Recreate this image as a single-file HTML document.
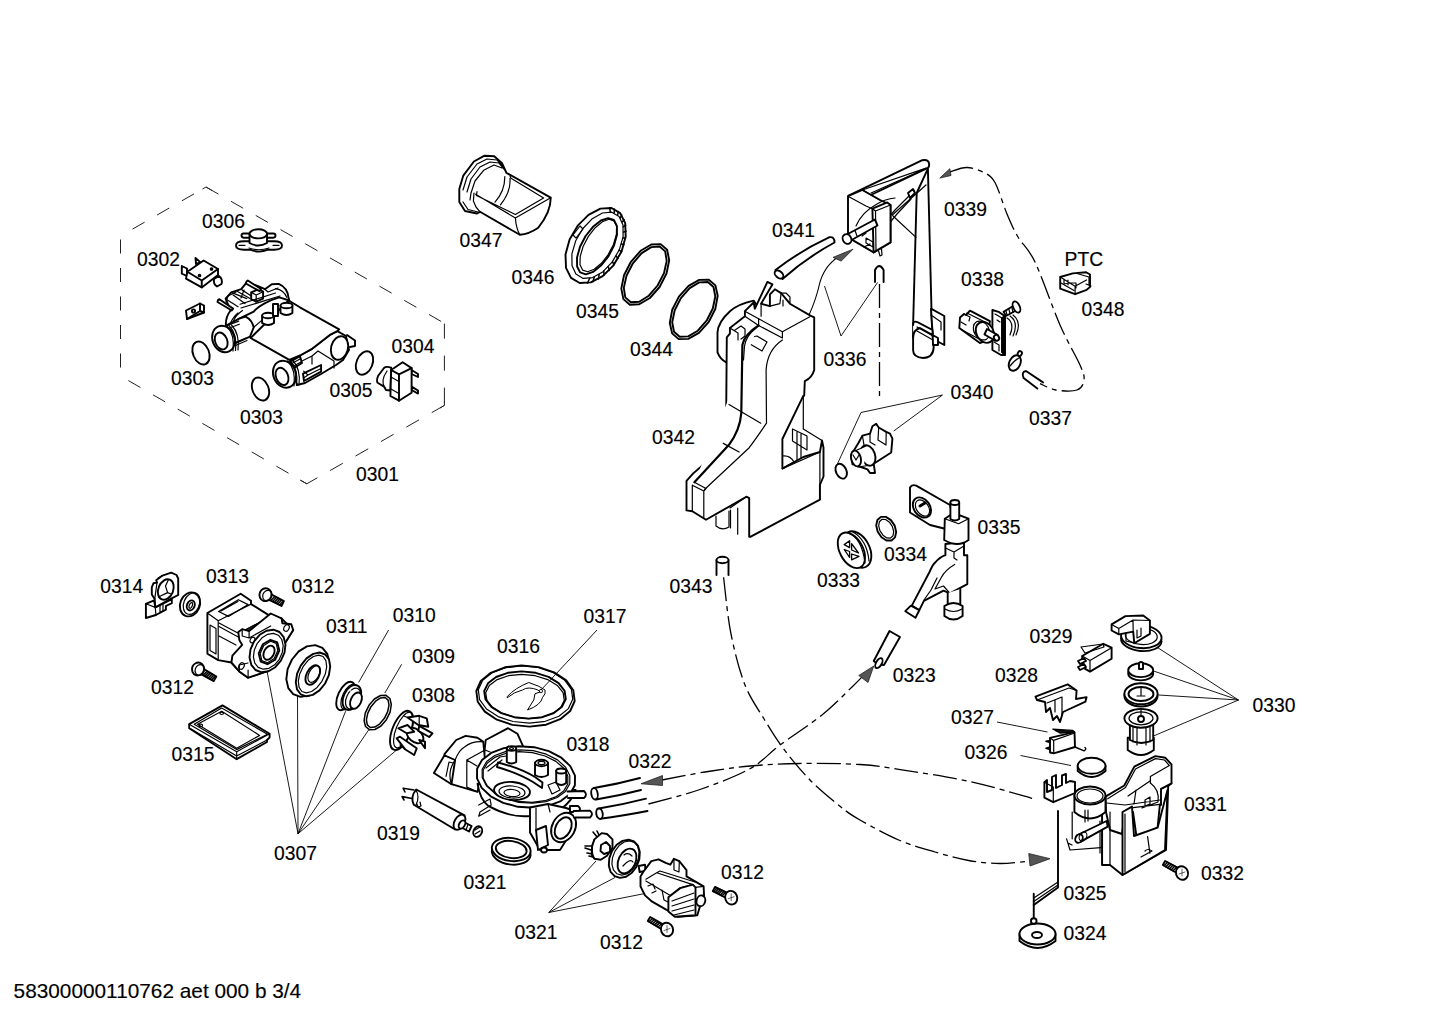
<!DOCTYPE html>
<html><head><meta charset="utf-8"><style>
html,body{margin:0;padding:0;background:#fff;}
svg{display:block;position:absolute;left:0;top:0;}
text{font-family:"Liberation Sans",sans-serif;font-size:19.3px;fill:#000;stroke:#000;stroke-width:0.15px;}
.o, .o *{fill:#fff;stroke:#000;stroke-width:1.9;stroke-linejoin:round;stroke-linecap:round;}
.o .th, .th{fill:none;stroke-width:1.2;}
.o .f, .f{fill:#000;}
.o .nf{fill:none;}
.ln{fill:none;stroke:#000;stroke-width:0.9;}
.dash{fill:none;stroke:#222;stroke-width:1.0;stroke-dasharray:14 14.5;}
.dd{fill:none;stroke:#000;stroke-width:1.3;stroke-dasharray:24 5 5 5;}
.ar{fill:#555;stroke:#222;stroke-width:0.8;}
</style></head><body>
<svg width="1442" height="1019" viewBox="0 0 1442 1019">
<!-- ===== 0301 box ===== -->
<path class="dash" d="M206,187 L120.5,236" style="stroke-dashoffset:14.7"/>
<path class="dash" d="M120.5,236 L120.5,376" style="stroke-dashoffset:25"/>
<path class="dash" d="M120.5,376 L306.8,483.8" style="stroke-dashoffset:19.4"/>
<path class="dash" d="M306.8,483.8 L444.4,405.4" style="stroke-dasharray:14.6 14.65;stroke-dashoffset:2.45"/>
<path class="dash" d="M444.4,405.4 L444.4,323.3" style="stroke-dasharray:15 17;stroke-dashoffset:29.2"/>
<path class="dash" d="M444.4,323.3 L206,187" style="stroke-dasharray:14 14.5;stroke-dashoffset:-3.8"/>
<path class="dash" d="M202.5,189 L206,187 L212,190.5" style="stroke-dasharray:none"/>
<path class="dash" d="M444.4,401 L444.4,405.4 L440,408" style="stroke-dasharray:none"/>
<path class="dash" d="M300,480 L306.8,483.8" style="stroke-dasharray:none"/>
<!-- 0306 thermostat -->
<g class="o">
<path d="M236,245.5 Q236,241.3 244,241.3 L274,241.3 Q282,241.3 282,245.5 Q282,249.7 274,249.7 L268,249.7 Q259,253.5 250,249.7 L244,249.7 Q236,249.7 236,245.5 Z"/>
<path d="M239,245.3 L245,245.3 M273,245.3 L279,245.3 M249,248 Q259,251.5 269,248" class="th"/>
<rect x="241.5" y="233.5" width="34" height="4.2" rx="2.1"/>
<path d="M249.5,234 L249.5,243 Q258.3,248 267,243 L267,234"/>
<ellipse cx="258.3" cy="233.8" rx="8.8" ry="4.6"/>
</g>
<!-- 0302 switch -->
<g class="o">
<path d="M181.8,266 L187,268.5 L187,276 L181.8,273.6 Z"/>
<path d="M195.5,258 L196,264 L200.5,262.4 Z"/>
<path d="M187.4,271.75 L203.6,260.5 L218,269 L218,275 L201.75,287.4 L186,278.6 Z"/>
<path d="M187.4,271.75 L201.75,280.5 L218,269 M201.75,280.5 L201.75,287.4"/>
<path d="M214,279 L219,276 Q223,279 221.5,284 L217,286.5 Q213,284 214,279 Z"/>
<circle cx="199.5" cy="275.5" r="0.9" class="f"/><circle cx="211.5" cy="269" r="0.9" class="f"/>
</g>
<!-- small clip -->
<g class="o">
<path d="M186,310.5 L200,303.5 L204,305.5 L204,312.5 L187,319 Z"/>
<path d="M200,303.5 L200,311 L187,319 M200,311 L204,312.5"/>
<circle cx="193.5" cy="311" r="1.6"/>
</g>
<!-- heater -->
<g class="o">
<!-- far tube (bottom cylinder to right end) -->
<path d="M290,360 L300,355.5 L312.4,348.6 L329.8,334.9 L337.3,331.2 L346,336 L349,350 L343,360 L336,365 L321,374 L305,383 L297,385 Z"/>
<path d="M300,355.5 L300,362 L312,356 L318,351 L334,361 L334,368 M312,356 L312,364" class="th"/>
<path d="M303,373.6 L321.1,365 L321.1,371.6 L304,381 Z" />
<path d="M303.6,371.1 L308,375 L303.6,378 M308,375 L321,368.5" class="th"/>
<!-- body plate -->
<path d="M250.6,338 L288.7,300.5 L299.9,307.3 L339.2,329.3 L337.3,331.2 L329.8,334.9 L312.4,348.6 L300,355.5 L289.3,359.9 Z"/>
<!-- arch + terminal housing -->
<path d="M225.9,326 C225.5,320 227,315 230.6,310.5 L225.6,298.6 L231.2,292.4 L241.2,289.2 L246.8,282.4 L258.1,286.1 L264.9,289.2 L271.8,284.2 L278.7,283.9 C284,286 288,291 288.7,298.6 L289.3,300.5 L279.3,297.4 C270,300 258,306 253.7,311.7 L239.3,318.6 Q234,322 232.5,326 Z"/>
<path d="M242.5,310.5 Q236,315 233.7,320.4 L232.5,325.4 M238,313 Q233,317 230,324" class="th"/>
<path d="M275.5,288.6 Q284,290 286.8,297.4" class="th"/>
<path d="M226.2,299.2 L238.1,306.7 M231.2,292.4 L246.8,298.6 M233.1,294.9 L245,303.6 M236.2,290.8 L250,298.6 M241.2,289.2 L251.2,296.1 M246.8,282.4 L256.2,287.4 M242.5,290.5 L250,295" class="th"/>
<path d="M251.2,292.4 L258.7,289.2 L263.1,291.7 L263.1,298.6 L256.2,301.7 L251.2,299.2 Z"/>
<path d="M251.2,292.4 L256.2,295 L263.1,291.7 M256.2,295 L256.2,301.7" class="th"/>
<path d="M240,304.2 L275.5,293 M241,308 L280,296 M264.9,289.2 L268,292 L278,288" class="th"/>
<path d="M218.1,299.8 L219.4,299.2 L233.1,308.6 L231.8,310.5 L217.5,302 Z"/>
<path d="M246.5,281.5 L247.8,280.5 L261,289 L259.5,291.2 L245.8,283.5 Z"/>
<path d="M226,302 L228,296 L236,292 M241,298 L244,290" class="th"/>
<!-- tube bulge from left cylinder -->
<path d="M227,325 L239.3,318.6 L245.6,316.7 Q252,320 253.7,327.3 L250,336.7 L236,343 L230,346 Z"/>
<path d="M253.7,327.3 L261.8,320.4" class="th"/>
<path d="M227.5,325.4 L238.7,321.1 M229.4,328 L239.3,324.2 M234,343 L246,338 M235.5,345.5 L247,340.5" class="th"/>
<!-- left end cylinder -->
<ellipse cx="223.5" cy="339" rx="11" ry="13.6" transform="rotate(-22 223.5 339)"/>
<path d="M226.5,326 Q235,334 233,351 M229,325.5 Q237.5,334 235.5,350.5 M231.5,325 Q240,334 238,350" class="th"/>
<ellipse cx="221.2" cy="341" rx="6" ry="8.8" transform="rotate(-22 221.2 341)"/>
<!-- bottom end cylinder -->
<path d="M290,362 L299.9,356.1 L302,363 L294,368 Z"/>
<path d="M291,364 L300,359 M292,367 L301,362" class="th"/>
<ellipse cx="284.5" cy="374.2" rx="11.2" ry="13.8" transform="rotate(-22 284.5 374.2)"/>
<path d="M287.5,361 Q296,369 294,386 M290,360.5 Q298.5,369 296.5,385.5 M292.5,360 Q301,369 299,385" class="th"/>
<ellipse cx="282" cy="376.4" rx="6" ry="9" transform="rotate(-22 282 376.4)"/>
<!-- right end -->
<ellipse cx="339.5" cy="348" rx="8.4" ry="12" transform="rotate(15 339.5 348)"/>
<path d="M347,335 L355,340.5 L355,346 L350,347" />
<!-- nipples -->
<path d="M262.1,316 L262.1,323 Q268,327 274,323 L274,316"/><ellipse cx="268.1" cy="315.5" rx="6" ry="2.8"/>
<path d="M273,304 L273,316 L278,316 L278,304 Z"/>
<path d="M280.5,305.5 L280.5,313 Q286.5,317 292.4,313 L292.4,305.5"/><ellipse cx="286.5" cy="305.5" rx="6" ry="2.8"/>
</g>
<!-- 0303 rings, 0305 -->
<g class="o">
<ellipse cx="201" cy="353" rx="8" ry="12" transform="rotate(-22 201 353)"/>
<ellipse cx="260.5" cy="389" rx="8" ry="12" transform="rotate(-22 260.5 389)"/>
<ellipse cx="364.5" cy="363" rx="8" ry="12.2" transform="rotate(22 364.5 363)"/>
</g>
<!-- 0304 -->
<g class="o">
<path d="M391.2,367.7 Q386,366 384,368 L378,376 Q376,382 378,383 L384,386.6 L386,390 L390.4,390.5 Z"/>
<path d="M387,371 Q380,381 385,388" class="th"/>
<path d="M411.6,370 L418,374 L418,377 L411.6,374 Z M411.6,386.6 L418,390.5 L418,393.6 L411.6,390 Z"/>
<path d="M391.2,370 L402.6,362.2 L411.6,368.1 L411.6,392.8 L399,400.7 L390.4,396 Z"/>
<path d="M391.2,370 L399,374.4 L411.6,368.1 M399,374.4 L399,400.7"/>
<path d="M391,377 L398,381 M391,389 L398,393" class="th"/>
</g>

<!-- 0347 filter -->
<g class="o">
<path d="M459.3,188.9 L463.3,175.6 L473.9,161.5 L484.5,155.7 L494.2,156.2 L502.1,163.3 L506.5,173 L508.3,173.9 L550.7,197.7 Q551,212 538.3,227.7 Q529,234 519.8,234.8 L480,211.8 L477,213.5 L465,211 L459.3,202.1 Z"/>
<path d="M463,190 L467,177 L477,164 L487,159 L497,160 L503,166 M467,192 L471,179 L480,167 L490,162 L499,163 L504,169 M470,200 L471,193 L475,181 L483.6,170.3 L494,165 L502,168" class="th"/>
<path d="M463,202 L468,209.5 L478,212 M474,193 L473.4,201 L476,207 L480,211.8" class="th"/>
<path d="M475.6,194.2 L515.4,218 L550.7,197.7 M477,191.5 L476.5,195.5 L515.4,214.5 L543.6,198.1 L511,178.3 L510,176" class="th"/>
<path d="M515.4,218 Q516,228 519.8,234.8" class="th"/>
<path d="M504.8,176.5 Q505,191 495,202.1 M510,178.3 Q511,192 500.4,204.8" class="th"/>
</g>
<g class="o">
<polygon points="613.5,265.3 602.7,276.2 590.8,282.4 579.7,283.0 571.0,277.9 566.0,267.9 565.5,254.4 569.6,239.6 577.7,225.7 588.5,214.8 600.4,208.6 611.5,208.0 620.2,213.1 625.2,223.1 625.7,236.6 621.6,251.4"/>
<polygon points="612.1,262.1 602.7,271.9 592.6,277.6 583.2,278.4 575.9,274.1 572.0,265.5 571.9,253.8 575.7,240.8 582.9,228.5 592.3,218.7 602.4,213.0 611.8,212.2 619.1,216.5 623.0,225.1 623.1,236.8 619.3,249.8" class="th"/>
<polygon points="608.4,256.4 601.0,265.6 593.1,271.9 585.8,274.3 580.1,272.4 577.1,266.5 577.0,257.6 580.0,246.8 585.6,236.0 593.0,226.8 600.9,220.5 608.2,218.1 613.9,220.0 616.9,225.9 617.0,234.8 614.0,245.6"/>
<polygon points="608.2,254.6 601.4,263.3 594.2,269.3 587.6,271.7 582.6,270.1 580.0,264.7 580.2,256.5 583.1,246.5 588.4,236.4 595.2,227.7 602.4,221.7 609.0,219.3 614.0,220.9 616.6,226.3 616.4,234.5 613.5,244.5" class="th"/>
<path d="M610.3,212.0 L609.7,207.7 M614.2,212.9 L614.4,208.9 M617.6,215.0 L618.4,211.4 M620.3,218.0 L621.7,215.0 M622.2,222.0 L624.1,219.6 M623.3,226.8 L625.6,225.1 M623.5,232.1 L626.1,231.2 M622.9,237.9 L625.5,237.9 M621.4,244.0 L623.9,244.8 M619.1,250.1 L621.4,251.7 M616.1,256.1 L618.0,258.4 M612.5,261.6 L613.9,264.7 M608.3,266.7 L609.2,270.4 M603.8,271.0 L604.0,275.2 M599.1,274.4 L598.5,279.0 M594.4,276.9 L592.9,281.7 M589.7,278.3 L587.4,283.2 " style="fill:none;stroke-width:1.5"/>
<path d="M573,235 L580,226 L583,229 L576,238 Z" class="th"/>
</g>
<g class="o">
<polygon points="659.6,287.0 649.9,298.0 639.2,304.3 629.8,304.7 623.4,299.1 621.3,288.6 624.0,275.3 630.9,261.8 640.6,250.8 651.3,244.5 660.7,244.1 667.1,249.7 669.2,260.2 666.5,273.5" class="nf"/>
<polygon points="657.6,285.5 648.8,295.7 639.2,301.7 630.8,302.3 625.3,297.4 623.8,287.9 626.5,275.7 632.9,263.3 641.7,253.1 651.3,247.1 659.7,246.5 665.2,251.4 666.7,260.9 664.0,273.1" class="nf"/>
<polygon points="708.6,322.2 698.9,332.9 688.3,338.9 678.7,339.1 672.1,333.4 669.8,323.0 672.2,309.8 678.9,296.6 688.6,285.9 699.2,279.9 708.8,279.7 715.4,285.4 717.7,295.8 715.3,309.0" class="nf"/>
<polygon points="706.6,320.7 697.8,330.7 688.2,336.4 679.7,336.8 674.0,331.8 672.2,322.3 674.7,310.3 680.9,298.1 689.7,288.1 699.3,282.4 707.8,282.0 713.5,287.0 715.3,296.5 712.8,308.5" class="nf"/>
</g>

<g class="o">
<path d="M753.6,300.6 Q738,304 730,311.2 Q718,322 717.5,332.4 L717.5,352.4 Q720,359 726.2,362.4 L745,360 L760,310 Z"/>
<path d="M744.9,311.2 L753.6,302.5 L754.9,308.7 L767.4,281.9 L772.4,284.4 L761.1,303.7 L769.9,306.2 L769.9,294.3 L774.9,289.3 L781.1,293.1 L789.9,303.7 L810.4,315.6 L814.2,317.4 L814.2,370 Q812,378 804.8,381.1 L804.2,395.8 L803.3,395.8 L782.4,439 L782.4,468.6 L803.3,457 L819.9,452 L822,440.5 L823.5,447.7 L823.5,476.5 L819.9,485 L819.9,499.6 L750.7,536.7 L749.2,536.7 L749.2,498.2 L746.4,496.7 L706,519.8 L692.3,511.2 L686.5,510.4 L686.5,480.9 L693.7,472.9 Q708.8,462.1 723.3,437.6 L726.2,411.6 L726.8,337.4 L729.9,333.7 L729.9,328 L744.9,316.2 Z"/>
<path d="M758.6,318.7 L782.4,331.8 L809.8,316.8 M758.6,325.5 L782.4,338 L782.4,331.8 M744.9,316.2 L758.6,325.5 L758.6,318.7 L744.9,311.2" class="th"/>
<path d="M761.1,316.2 L761.1,303.7 M769.9,306.2 L779.9,303.7 L781.1,293.1" class="th"/>
<path d="M789.9,303.7 L790,297 L786,293 L781.1,293.1 M783,300 L783,306" class="th"/>
<path d="M729.9,328 L738,333 L738,340 M735,330 L741,326 L745,329 L745,336 L741,339" class="th"/>
<path d="M750,337.5 L757,336 L767,342 L762,351 L750,344 Z" class="th"/>
<path d="M758.6,325.5 Q744,335 742.4,344.9 L741.3,413 Q740,430 729,444.8 L694.4,482.3" style="stroke-width:2.2"/>
<path d="M756,328 Q746,336 744.5,346 L743.5,360" class="th"/>
<path d="M782.4,340 Q767.4,350 766.1,369.9 L766.5,423.2 Q755,440 749.2,447.7 L704.5,489.5" class="th"/>
<path d="M729,404.4 L760.8,423.2 M723.3,443.4 L739.1,452" class="th"/>
<path d="M692.3,485.2 L692.3,511.2 M703.8,491 L703.8,517.6 M692.3,485.2 L703.8,491 L706,488.5 M694.4,482.3 L706,488.5" class="th"/>
<path d="M746.4,496.7 L730,508 M737.7,508 L737.7,534.2 M730.5,510 L730.5,528" class="th"/>
<path d="M716,516 L716,526 Q722,531 729,527 L729,511" class="th"/>
<path d="M803.3,395.8 L803.3,429 L822,440.5 M782.4,468.6 L794,462 Q790,455 782.4,456 M792.5,429 L792.5,441 L807,450 L807,436 Z M797,432 L797,460 M801,434 L801,458" class="th"/>
<path d="M782.4,468.6 L819.9,452 M819.9,452 L819.9,499.6" class="th"/>
</g>
<g class="o">
<path d="M775.5,270 Q800,251 829.5,237.2 Q834.5,236.5 834.5,242.5 Q806,258 782.5,279 Z"/>
<ellipse cx="779" cy="274.5" rx="3.2" ry="5" transform="rotate(-50 779 274.5)"/>
</g>
<path class="ln" style="stroke-width:1.1" d="M809,315 Q816,300 820,282 Q826,262 845,253"/>
<path class="ar" d="M853,249.2 L833,257.4 L841.2,261.1 Z"/>
<g class="o">
<path d="M916.7,193 L927.9,168.7 L931.8,322.4 L933.7,347.4 Q933,358 923.1,358 Q913,357 913.1,350 L913.1,325 Z"/>
<path d="M926,185 L892.3,215 M893,216 L916,237.4" class="th"/>
<path d="M848.6,195.6 L922.3,160.2 Q929,159 929.2,164.4 Q929,168 927.3,168.1 L862.4,199 Z"/>
<path d="M862.4,190 L926,168.1 M871.1,193 L925.4,168.7" class="th"/>
<path d="M848,196.2 L862.4,190 L880,200 L890.5,205 L890.5,242.4 L873.6,252.4 L848,237.4 Z"/>
<path d="M848,196.2 L866,206 L872.4,208.7 M862.4,190 L880,200" class="th"/>
<path d="M856,226 Q862,212 877,204 Q885,199 895,198" class="th"/>
<path d="M880,227 L895,210 L909,196 M882,232 L897,214 L911,199" class="th"/>
<path d="M908,193 L913,189 L915,193 L910,198 Z"/>
<path d="M872.4,208.7 L887.3,202.4 L890.5,205 L890.5,242.4 L873.6,252.4 Z"/>
<path d="M872.4,208.7 L875.5,211 L890.5,205 M875.5,211 L876,250.5" class="th"/>
<path d="M866,238 L873,242 L873,247 L866,243 Z M862,236 L866,233 M864,247 L870,244" class="th"/>
<path d="M878.6,251 L880,256 L882,255 L881.5,249" class="th"/>
<path d="M845,235.5 L874.9,219.5 L877.5,225.5 L848,242 Z"/>
<ellipse cx="847" cy="239" rx="4.2" ry="5" transform="rotate(-30 847 239)"/>
<path d="M855,230.5 L857,236" class="th"/>
<path d="M931,308.7 L944.3,316 L944.3,345 L933,339 Z"/>
<path d="M931,315 L941,322 L941,330" class="th"/>
<path d="M913.1,325 Q913,320 918,322.4 L932.5,330 L933,345 L938,345 L938,338 L920,328 Q913,330 913.1,337.4" />
<path d="M917,327 L933,336 M917,331 L933,340" class="th"/>
</g>
<path class="o" d="M875,282 L875,270 Q879.2,262 883.6,270 L883.6,282" style="fill:none"/>
<path class="dd" d="M879.5,284 L879.5,400"/>
<path class="ln" d="M824.5,286 L841,336 L877.5,282.5"/>
<g class="o">
<path d="M960,317.5 L964,314 L966,315 L970,310.6 L989.9,321.2 L987.4,340 L979.9,343 L959.3,328 Z"/>
<path d="M961,322 L966,325 M964,314 L970,317 L969,321 M962,330 L983,341 M967,313 L987,323" class="th"/>
<path d="M992.4,310 L998.6,311.8 L1004.9,316.2 L1004.9,355 L1001,355 L992.4,350 Z"/>
<path d="M995,314 L1002,318 L1002,352 M994,342 L999,345 L999,351 M997,320 L1000,322" class="th"/>
<path d="M1002,318 L1004.9,316.2 L1004.9,355 L1002,352 Z" style="fill:#000"/>
<path d="M987,329 L997.5,335 L995,340.5 L984.5,334.5 Z"/>
<ellipse cx="984.9" cy="332.4" rx="8.5" ry="11" transform="rotate(-30 984.9 332.4)"/>
<ellipse cx="981.5" cy="330.5" rx="7.5" ry="10" transform="rotate(-30 981.5 330.5)" class="th"/>
<path d="M987,329 L997.5,335 L995,340.5 L984.5,334.5 Z"/>
<ellipse cx="996.5" cy="337.8" rx="2.5" ry="3" transform="rotate(-30 996.5 337.8)"/>
<path d="M1003.6,311.8 L1014.8,305 L1017,310 L1006,316 Z"/>
<path d="M1006,311 L1007,315 M1009,309.5 L1010,313.5 M1012,308 L1013,312" class="th"/>
<ellipse cx="1016.5" cy="307" rx="3.2" ry="6" transform="rotate(-25 1016.5 307)"/>
<path d="M1007,318 Q1015,323 1010,335 M1010,316 Q1019,322 1013,336 M1013,315 Q1022,322 1016,335" class="th"/>
</g>
<g class="o">
<ellipse cx="1014.8" cy="363" rx="5.5" ry="8.2" transform="rotate(25 1014.8 363)"/>
<path d="M1010,366 Q1015,360 1019,358" class="th"/>
<ellipse cx="1019.8" cy="353.6" rx="2" ry="2.5" transform="rotate(25 1019.8 353.6)"/>
<path d="M1043,382.4 L1026,371 Q1021,372 1023.6,378 L1037.3,388.6"/>
</g>
<g class="o">
<path d="M1060.2,277 L1072.8,273.4 L1086.1,272.2 L1090,274.5 L1090,287.1 L1086.1,290.2 L1075.1,294.2 L1060.2,288.7 Z"/>
<path d="M1060.2,277 L1075.1,286.3 L1086.5,280 M1075.1,286.3 L1075.1,294.2 M1077,273.5 L1089,277 L1089,285 M1064,279 L1064,284 L1070,283 M1068,280 L1068,285 M1070,283 L1076,283 L1076,288" class="th"/>
<path d="M1061,283 L1074,290.5 M1086,284 L1091,286" class="th"/>
</g>
<path class="dd" d="M949.8,172.0 C952.7,171.2 961.1,167.3 967.0,167.5 C972.9,167.7 980.3,170.5 985.0,173.0 C989.7,175.5 991.3,175.7 995.0,182.5 C998.7,189.3 1003.2,204.9 1007.0,214.0 C1010.8,223.1 1013.3,229.0 1018.0,237.0 C1022.7,245.0 1028.0,247.3 1035.0,262.0 C1042.0,276.7 1052.5,307.8 1060.0,325.0 C1067.5,342.2 1076.0,355.8 1080.0,365.0 C1084.0,374.2 1084.5,375.8 1084.0,380.0 C1083.5,384.2 1081.7,388.3 1077.0,390.0 C1072.3,391.7 1062.2,391.1 1056.0,390.0 C1049.8,388.9 1042.7,384.7 1040.0,383.6"/>
<path class="ar" d="M939.8,178.1 L949.8,168.7 L951,175.5 Z"/>
<g class="o">
<path d="M858.7,442.5 L862.4,435.6 L870,433.7 L872.4,426.2 L876.2,423.7 L878.7,427.5 L886.2,431.9 L890,433.7 L892.4,438.7 L891.2,452.5 L873.7,463.7 L875,473 L870,473 L867.5,469.4 L862.4,467.5 L852.5,464.4 L851.2,455 Z"/>
<path d="M878.7,427.5 L878,440 L886,445 L886.2,431.9 M870,433.7 L870,442 L875,445 M862.4,435.6 L864,445" class="th"/>
<ellipse cx="868" cy="455.5" rx="7" ry="10.5" transform="rotate(-20 868 455.5)"/>
<path d="M866,446 L856,451 L853,466 L864,466 Z" style="stroke:none"/>
<path d="M866,446 L856,450.5 M868,465.5 L858,467" class="th"/>
<ellipse cx="856" cy="458.5" rx="4.8" ry="8" transform="rotate(-15 856 458.5)"/>
<path d="M853,455 L856,460 L859,455" class="th"/>
</g>
<g class="o"><ellipse cx="841.2" cy="471.2" rx="5.2" ry="7.8" transform="rotate(-25 841.2 471.2)"/></g>
<path class="ln" d="M942.5,395 L861,412.5 L837.5,463.75 M942.5,395 L893.75,431"/>
<g class="o">
<path d="M910,487.5 Q912,484 916.2,485.6 L950,505 L952,512 L946,529 L930,525 L910,512.5 Z"/>
<ellipse cx="921.9" cy="507.5" rx="8" ry="11" transform="rotate(-35 921.9 507.5)"/>
<ellipse cx="922.5" cy="508" rx="6" ry="9" transform="rotate(-35 922.5 508)" class="th"/>
<path d="M920,506 L925,503" style="stroke-width:3"/>
<path d="M945.4,544 L964,542 L964,555.2 L967.3,555.2 L967.3,584.1 L950,593.4 L943.5,590.6 L923.9,600.9 L919.3,610.2 L911.8,605.6 L929.5,572 Q933,564 935.1,562.6 Q940,557 945.4,555.2 Z"/>
<path d="M945.4,548 L954,552 L964,546 M954,552 L954,558 L957,560 M954.7,564.5 Q945,570 941,578 L935,589 L943.5,586 L950,593.4 M937,578 L931,590 L924,600" class="th"/>
<path d="M947.7,593 L947.7,606 L960.3,606 L960.3,589"/>
<path d="M944.4,606 L944.4,616 Q953.5,623 962.6,616 L962.6,606 Q953.5,600 944.4,606 Z"/>
<path d="M945,609 Q953.5,614 962,609" class="th"/>
<path d="M905.3,611.2 L910.9,605.6 L919.3,610.2 L915.5,617.7 Z"/>
<path d="M944.8,518.7 L953.6,513 L968.5,518.7 L968.5,540 Q958,548 944.2,540 Z"/>
<path d="M944.8,518.7 L958.6,523.7 L968.5,518.7" class="th"/>
<path d="M950.4,502.5 L950.4,519 Q955,522 959.2,519 L959.2,502.5"/>
<ellipse cx="954.8" cy="502.5" rx="4.4" ry="2.5" transform="rotate(0 954.8 502.5)"/>
</g>
<g class="o"><polygon points="894.7,525.6 896.2,532.0 895.0,537.4 891.5,540.5 886.5,540.5 881.5,537.3 877.7,531.8 876.2,525.4 877.4,520.0 880.9,516.9 885.9,516.9 890.9,520.1"/><polygon points="892.4,526.6 893.7,531.5 893.0,535.7 890.4,538.1 886.8,537.9 883.0,535.2 880.0,530.8 878.7,525.9 879.4,521.7 882.0,519.3 885.6,519.5 889.4,522.2" class="th"/></g>
<g class="o">
<ellipse cx="857" cy="549.5" rx="12.5" ry="19.5" transform="rotate(-28 857 549.5)"/>
<ellipse cx="851.4" cy="550.3" rx="11.6" ry="19.2" transform="rotate(-28 851.4 550.3)"/>
<path d="M848,533 Q862,538 865,563 M853,532 Q867,540 869,561" class="th"/>
<path d="M844.2,544.6 L849.6,540.7 L849.6,547.6 Z M851.6,543.6 L858.5,553 L851.6,550 Z M844.2,549.5 L849.6,551.5 L849.6,557.4 Z M851.6,554 L859,556.4 L851.6,559.8 Z" style="stroke-width:1.3"/>
</g>
<g class="o">
<path d="M716.5,560 L716.5,575 M728.5,560 L728.5,575"/>
<ellipse cx="722.5" cy="560" rx="6" ry="3.2" transform="rotate(0 722.5 560)"/>
</g>

<path class="ln" d="M298,833.75 L267,671 M298,833.75 L297.5,693.7 M298,833.75 L345.6,711.2 M298,833.75 L368.6,730 M298,833.75 L397.3,749.4"/>
<path class="ln" d="M388.6,630 L358.6,682.5 M401.7,664.3 L384.8,693"/>
<g class="o">
<path d="M145.9,603.8 L154.1,600.3 L155.3,607.4 L171.8,599.1 L171.8,603.2 L165.9,606 L165.9,609.7 L155.9,615 L145.9,618 Z"/>
<path d="M145.9,603.8 L155.3,607.4 L155.9,615 M160,605 L160,612 L163,611 L163,604" class="th"/>
<path d="M156.2,580.3 L162.4,575.6 L171.2,572.6 L176.5,575 L178.2,578.5 L178.2,595 L172.1,598.2 L155.3,607.4 L154.7,599.1 L151.8,594.4 L151.8,587.4 L153.5,583.2 L157,582.6 Z"/>
<path d="M157,582.6 L154.7,599.1 M158,578 L162,576" class="th"/>
<ellipse cx="165.8" cy="589.5" rx="7.4" ry="10.6" transform="rotate(22 165.8 589.5)"/>
<path d="M167.6,592.6 L158.5,597 M167.6,592.6 L165.5,586 L168.5,579.5 M167.6,592.6 L171,594" class="th"/>
</g>
<g class="o">
<ellipse cx="190" cy="604.4" rx="9.8" ry="12.3" transform="rotate(22 190 604.4)"/>
<ellipse cx="191.6" cy="603.6" rx="7.8" ry="11.2" transform="rotate(22 191.6 603.6)" class="th"/>
<ellipse cx="190.8" cy="605.4" rx="3.8" ry="5.2" transform="rotate(22 190.8 605.4)"/>
<ellipse cx="190.8" cy="605.4" rx="1.5" ry="3" transform="rotate(22 190.8 605.4)" class="th"/>
</g>
<g class="o"><path d="M264.1,597.4 L281.5,606.0 L283.9,601.2 L266.9,592.0 Z"/><path d="M270.9,600.5 L274.7,596.4 M272.6,601.4 L276.5,597.3 M274.4,602.3 L278.2,598.2 M276.1,603.2 L279.9,599.1 M277.8,604.1 L281.6,600.0 M279.5,605.0 L283.3,600.9 " style="stroke-width:1.5;fill:none"/><ellipse cx="265.5" cy="594.7" rx="6" ry="6.48" transform="rotate(20 265.5 594.7)"/><ellipse cx="267.3" cy="595.6" rx="4.5" ry="5.4" transform="rotate(20 267.3 595.6)" class="th"/></g>
<g class="o"><path d="M196.5,671.6 L213.7,681.1 L216.3,676.5 L199.5,666.4 Z"/><path d="M203.1,675.1 L207.1,671.2 M204.8,676.1 L208.8,672.1 M206.5,677.0 L210.5,673.1 M208.2,678.0 L212.2,674.1 M209.9,679.0 L213.9,675.1 M211.6,680.0 L215.6,676.1 " style="stroke-width:1.5;fill:none"/><ellipse cx="198" cy="669" rx="6" ry="6.48" transform="rotate(20 198 669)"/><ellipse cx="199.7" cy="670.0" rx="4.5" ry="5.4" transform="rotate(20 199.7 670.0)" class="th"/></g>
<g class="o">
<path d="M207.4,613 L240.7,593.8 L251,600.7 L251,604.1 L270.7,616.4 L281.5,618.4 L293.2,630.1 L284.4,643.9 L266.7,671.4 L248.1,677.7 L239.3,671.4 L231.4,662.5 L218.2,660.1 L207.4,653.7 Z"/>
<path d="M207.4,613 L218.2,620.8 L251,604.1 M218.2,620.8 L218.2,660.1" class="th"/>
<path d="M210,625 L216,628.5 L216,654 L210,650.5 Z" class="th"/>
<path d="M218.6,611.5 L238.3,599.7 L248.1,604.6 L228.5,616.4 Z M221,611 L238,601.5" class="th"/>
<path d="M219,623 L243.5,636 M219,626.5 L241,638.5 M219,636 L236,645 M245.1,630.1 L270.7,616.4" class="th"/>
<path d="M247,629 L268,618 L271,620 L250,631.5 Z" style="fill:#333;stroke-width:1"/>
<path d="M238.3,632.1 L242.2,629.2 L249.1,631.1 L270.7,613.5 L281.5,618.4 L282.4,623.3 L291.3,624.3 L293.2,630.1 L284.4,643.9 L266.7,671.4 L255,675.3 L248.1,677.7 L239.3,671.4 L231.4,662.5 L232.4,655.7 L242.2,644.9 L239.3,640 Z"/>
<path d="M242.2,629.2 L242.2,636 L249.1,638 L249.1,631.1 M249.1,638 L270.7,626 M239.3,671.4 L239.3,665 L248,663 M248.1,677.7 L248.1,670" class="th"/>
<ellipse cx="286.5" cy="628" rx="2.5" ry="3.5" transform="rotate(28 286.5 628)" class="th"/><ellipse cx="241.5" cy="666" rx="2.5" ry="3.5" transform="rotate(28 241.5 666)" class="th"/><ellipse cx="252.5" cy="640" rx="2.2" ry="3" transform="rotate(28 252.5 640)" class="th"/>
<polygon points="280.9,660.7 275.3,667.2 268.5,671.3 261.6,672.3 255.5,670.0 251.3,664.8 249.5,657.6 250.5,649.3 254.1,641.3 259.7,634.8 266.5,630.7 273.4,629.7 279.5,632.0 283.7,637.2 285.5,644.4 284.5,652.7"/>
<polygon points="279.3,659.3 274.6,664.8 268.9,668.3 263.2,669.2 258.2,667.4 254.8,663.1 253.4,657.0 254.3,650.1 257.3,643.3 262.0,637.8 267.7,634.3 273.4,633.4 278.4,635.2 281.8,639.5 283.2,645.6 282.3,652.5" class="th"/>
<polygon points="275.2,659.7 267.5,664.2 260.7,661.6 258.7,653.4 262.8,644.3 270.5,639.8 277.3,642.4 279.3,650.6"/>
<polygon points="274.2,658.6 267.5,662.7 261.8,660.6 260.2,653.4 263.8,645.4 270.5,641.3 276.2,643.4 277.8,650.6" class="th"/>
<ellipse cx="269" cy="652.7" rx="5" ry="7.5" transform="rotate(28 269 652.7)"/>
</g>
<g class="o">
<path d="M189.2,724.2 L222.5,705.4 L269.6,733.75 L269.6,737.5 L267,740 L267,742 L236.7,759.2 L189.2,728.3 Z"/>
<path d="M189.2,724.2 L236.7,751.7 L269.6,733.75 M236.7,751.7 L236.7,759.2 M191,729 L236.7,756 L267,740" class="th"/>
<path d="M194.2,724.2 L221.7,708 L267.5,734.2 L236.7,749.6 Z" class="th"/>
<path d="M197.5,724.2 L221.7,711.2 L259.6,735.4 L236.7,748.3 Z" class="th"/>
<ellipse cx="200.8" cy="725.4" rx="1.8" ry="1.2" transform="rotate(0 200.8 725.4)" class="th"/><ellipse cx="221.7" cy="713.3" rx="1.8" ry="1.2" transform="rotate(0 221.7 713.3)" class="th"/>
</g>
<g class="o">
<polygon points="323.6,682.5 316.9,690.6 308.7,695.6 300.4,696.9 293.2,694.2 288.3,688.1 286.3,679.3 287.6,669.2 292.0,659.5 298.7,651.4 306.9,646.4 315.2,645.1 322.4,647.8 327.3,653.9 329.3,662.7 328.0,672.8"/>
<polygon points="325.1,683.5 319.5,690.4 312.8,694.9 306.3,696.3 300.7,694.3 297.0,689.4 295.8,682.1 297.1,673.6 300.9,665.3 306.5,658.4 313.2,653.9 319.7,652.5 325.3,654.5 329.0,659.4 330.2,666.7 328.9,675.2"/>
<polygon points="321.9,681.3 317.1,687.4 311.6,691.5 306.3,692.9 301.9,691.5 299.1,687.3 298.3,681.2 299.7,673.9 303.1,666.7 307.9,660.6 313.4,656.5 318.7,655.1 323.1,656.5 325.9,660.7 326.7,666.8 325.3,674.1" class="th"/>
<ellipse cx="312.8" cy="675" rx="6.2" ry="10.5" transform="rotate(28 312.8 675)"/>
<ellipse cx="314" cy="674" rx="5" ry="9" transform="rotate(28 314 674)" class="th"/>
</g>
<g class="o">
<ellipse cx="345.6" cy="696" rx="7.5" ry="15.3" transform="rotate(25 345.6 696)"/>
<ellipse cx="349.5" cy="697" rx="7" ry="13.8" transform="rotate(25 349.5 697)" class="th"/>
<ellipse cx="351.9" cy="697.5" rx="8.3" ry="13.2" transform="rotate(25 351.9 697.5)"/>
<ellipse cx="353" cy="698.5" rx="6.5" ry="11" transform="rotate(25 353 698.5)" class="th"/>
<path d="M350,690 L355,692 L361,707 L355,709 Z" style="stroke:none"/>
<ellipse cx="356" cy="700.6" rx="5.2" ry="8.6" transform="rotate(25 356 700.6)"/>
</g>
<g class="o"><polygon points="386.4,719.7 381.0,726.0 374.9,729.5 369.4,729.7 365.5,726.5 364.1,720.5 365.3,712.9 369.0,705.3 374.4,699.0 380.5,695.5 386.0,695.3 389.9,698.5 391.3,704.5 390.1,712.1" class="nf" style="stroke-width:1.5"/><polygon points="384.4,718.3 379.8,723.8 374.8,727.1 370.3,727.5 367.3,724.9 366.4,719.8 367.7,713.3 371.0,706.7 375.6,701.2 380.6,697.9 385.1,697.5 388.1,700.1 389.0,705.2 387.7,711.7" class="nf" style="stroke-width:1.5"/></g>
<g class="o">
<ellipse cx="401.5" cy="730.4" rx="9.1" ry="20.8" transform="rotate(22 401.5 730.4)"/>
<ellipse cx="403.5" cy="730" rx="7.5" ry="19" transform="rotate(22 403.5 730)" class="th"/>
<ellipse cx="415" cy="735.5" rx="9.6" ry="6.3" transform="rotate(40 415 735.5)"/>
<path d="M407.5,717.5 L419.2,715.8 L426.7,718.3 L428.3,726.7 L418.3,725 Z"/>
<path d="M419.2,725.8 L432.5,733.3 L429.2,737 L418.3,730.8 Z"/>
<path d="M396.7,738.3 L400,736.7 L416.7,748.3 L414.2,755 L405,749.2 Z"/>
<path d="M419.2,740 L425,741.7 L425,748.3 Z"/>
<path d="M398.3,728.3 L407.5,725 L414.2,731.7 L406.7,733.3 Z"/>
<path d="M407.5,717.5 L404,716 M419.2,715.8 L419.2,725 M405,749.2 L400,745" class="th"/>
</g>
<g class="o"><path d="M732.4,895.4 L715.0,886.9 L712.8,891.1 L730.0,900.0 Z"/><path d="M725.6,892.2 L722.1,895.7 M723.8,891.4 L720.4,894.9 M722.1,890.5 L718.6,894.0 M720.4,889.6 L716.9,893.1 M718.6,888.8 L715.2,892.3 M716.9,887.9 L713.5,891.4 " style="stroke-width:1.5;fill:none"/><ellipse cx="731.2" cy="897.7" rx="6" ry="6.8999999999999995" transform="rotate(-20 731.2 897.7)"/><path d="M731.2,893.7 L731.2,900.7 M728.2,898.7 L734.2,896.7" style="stroke-width:0.6;fill:none"/></g>
<g class="o"><path d="M668.3,927.3 L650.2,917.0 L647.8,921.0 L665.7,931.7 Z"/><path d="M661.7,923.7 L658.0,927.0 M659.9,922.6 L656.2,925.9 M658.1,921.6 L654.4,924.9 M656.3,920.5 L652.6,923.8 M654.5,919.5 L650.8,922.8 M652.7,918.4 L649.0,921.7 " style="stroke-width:1.5;fill:none"/><ellipse cx="667" cy="929.5" rx="6" ry="6.8999999999999995" transform="rotate(-20 667 929.5)"/><path d="M667.0,925.5 L667.0,932.5 M664.0,930.5 L670.0,928.5" style="stroke-width:0.6;fill:none"/></g>
<g class="o"><path d="M1183.3,870.7 L1165.1,861.0 L1162.9,865.0 L1180.7,875.3 Z"/><path d="M1176.6,867.3 L1173.0,870.7 M1174.8,866.3 L1171.2,869.7 M1173.0,865.3 L1169.4,868.7 M1171.2,864.3 L1167.6,867.7 M1169.4,863.3 L1165.8,866.7 M1167.6,862.3 L1164.0,865.7 " style="stroke-width:1.5;fill:none"/><ellipse cx="1182" cy="873" rx="6" ry="6.8999999999999995" transform="rotate(-20 1182 873)"/><path d="M1182.0,869.0 L1182.0,876.0 M1179.0,874.0 L1185.0,872.0" style="stroke-width:0.6;fill:none"/></g>

<g class="o"><polygon points="574.7,701.0 570.2,711.0 560.2,719.2 546.1,724.7 529.5,726.6 512.4,724.9 496.9,719.7 484.8,711.6 477.7,701.7 476.3,691.0 480.8,681.0 490.8,672.8 504.9,667.3 521.5,665.4 538.6,667.1 554.1,672.3 566.2,680.4 573.3,690.3"/><polygon points="572.7,699.2 568.4,708.6 558.9,716.3 545.3,721.3 529.4,723.1 513.0,721.5 498.1,716.6 486.5,709.0 479.6,699.7 478.3,689.8 482.6,680.4 492.1,672.7 505.7,667.7 521.6,665.9 538.0,667.5 552.9,672.4 564.5,680.0 571.4,689.3" class="th"/><polygon points="565.8,699.0 562.0,706.7 553.9,713.0 542.2,717.2 528.5,718.6 514.3,717.2 501.4,713.1 491.4,706.9 485.4,699.2 484.2,691.0 488.0,683.3 496.1,677.0 507.8,672.8 521.5,671.4 535.7,672.8 548.6,676.9 558.6,683.1 564.6,690.8"/><polygon points="564.3,700.3 560.7,707.6 552.8,713.4 541.6,717.3 528.4,718.6 514.7,717.3 502.3,713.4 492.7,707.6 486.9,700.3 485.7,692.7 489.3,685.4 497.2,679.6 508.4,675.7 521.6,674.4 535.3,675.7 547.7,679.6 557.3,685.4 563.1,692.7" class="th"/></g>
<path class="o" d="M507.5,696.25 Q515,688 528.75,682.5 L538.75,686.25 L545,690 L545,693.75 L542.5,697.5 Q541,705 527.5,710 L530,706 Q535,700 535,693.75 L540,692 L538,690 Q528,686 522.5,690 Q514,692 507.5,697.5 Z" style="fill:#fff;stroke-width:1"/>
<ellipse class="ln" cx="541" cy="691" rx="1.5" ry="1.8" transform="rotate(0 541 691)"/>
<path class="ln" d="M597,630 L541,690"/>
<g class="o">
<path d="M403.2,788.3 L414,790 M402.1,796.6 L412,798.5 M403.2,788.3 L405,792 M402.1,796.6 L404,800" class="th" style="stroke-width:1.6"/>
<path d="M416.2,789.5 L464.5,815.4 L455.1,829.5 L413.8,804.8 Q410,797 416.2,789.5 Z"/>
<path d="M416,790 Q420,797 416,805 M416.5,803 L418,807 L421,806 L420,802" class="th"/>
<path d="M460,820 L471.6,826 L469,831.5 L457.5,825.5 Z"/>
<path d="M462,821.5 L460,827 M465,823 L463,828.5 M468,824.5 L466,830" class="th"/>
<ellipse cx="459.5" cy="822.2" rx="5" ry="8.2" transform="rotate(30 459.5 822.2)"/>
<ellipse cx="462" cy="824.5" rx="2.8" ry="4.5" transform="rotate(30 462 824.5)"/>
<ellipse cx="477.7" cy="831.6" rx="4.2" ry="5.5" transform="rotate(25 477.7 831.6)"/>
<path d="M475,830 L480,827 M475,834 L480,831" class="th"/>
</g>
<g class="o">
<ellipse cx="511.2" cy="853" rx="19.5" ry="11.5" transform="rotate(8 511.2 853)"/>
<ellipse cx="511.2" cy="849.5" rx="19.5" ry="11.5" transform="rotate(8 511.2 849.5)"/>
<ellipse cx="511.2" cy="849.5" rx="15.5" ry="8.5" transform="rotate(8 511.2 849.5)"/>
</g>
<g class="o">
<path d="M485.7,740 L508.1,728.2 L517.4,733.7 L523,746.2 L500,790 L480,792 Z"/>
<path d="M444.5,754.2 L456.2,740 L465.7,735.9 L477.5,737.7 L483.3,741.8 L485,760 L477.5,791.8 L451.5,784.2 Z"/>
<path d="M455.1,760 Q459,750 464.5,747 Q472,741 483.3,741.8" class="th"/>
<path d="M433.9,773 L444.5,755.3 L455.1,760 L451.5,784.2 Z"/>
<path d="M446,776.5 L449,762 L453,763 M451.5,784.2 Q447,772 455.1,760" class="th"/>
<path d="M466.8,760 L485,750 L490,752 M466.8,760 L466.8,787.1 L477.5,791.8 M466.8,760 L477,766" class="th"/>
<path d="M477.5,783.7 Q480,800 488.7,806.2 Q510,818 530,816 L560,810 Q573,800 575.6,790 Z"/>
<polygon points="574.9,785.2 570.0,794.0 560.8,801.1 548.2,805.9 533.4,807.8 517.9,806.8 503.2,802.8 490.7,796.3 481.7,787.9 477.0,778.4 477.1,768.8 482.0,760.0 491.2,752.9 503.8,748.1 518.6,746.2 534.1,747.2 548.8,751.2 561.3,757.7 570.3,766.1 575.0,775.6"/>
<polygon points="569.8,783.8 565.4,791.4 557.2,797.5 545.9,801.6 532.7,803.2 518.8,802.3 505.7,798.8 494.5,793.1 486.4,785.8 482.2,777.6 482.2,769.2 486.6,761.6 494.8,755.5 506.1,751.4 519.3,749.8 533.2,750.7 546.3,754.2 557.5,759.9 565.6,767.2 569.8,775.4" class="th"/>
<polygon points="567.8,784.0 563.6,791.1 555.7,796.9 544.8,800.7 532.0,802.3 518.6,801.3 505.9,798.0 495.1,792.6 487.2,785.7 483.2,777.9 483.2,770.0 487.4,762.9 495.3,757.1 506.2,753.3 519.0,751.7 532.4,752.7 545.1,756.0 555.9,761.4 563.8,768.3 567.8,776.1" class="th"/>
<ellipse cx="512" cy="791" rx="18" ry="9" transform="rotate(5 512 791)"/><ellipse cx="512" cy="792" rx="13" ry="6" transform="rotate(5 512 792)" class="th"/><ellipse cx="512" cy="793" rx="8" ry="3.5" transform="rotate(5 512 793)" class="th"/>
<path d="M498,762.5 Q520,768 535,777 L542.5,782.5 L542,788 L533,782 Q518,773 497,767 Z"/>
<path d="M486,768 L500,757 L506,756 M488,771 L502,760" class="th"/>
<path d="M506.8,748.5 L506.8,762 Q511.5,765 516.2,762 L516.2,748.5"/><ellipse cx="511.5" cy="748.5" rx="4.7" ry="2.3" transform="rotate(0 511.5 748.5)"/><ellipse cx="511.5" cy="748.5" rx="2" ry="1" transform="rotate(0 511.5 748.5)" class="th"/>
<path d="M535,763 L535,775 Q541.5,779 548,775 L548,763"/><ellipse cx="541.5" cy="763" rx="6.5" ry="3.2" transform="rotate(0 541.5 763)"/><ellipse cx="541.5" cy="763" rx="3.5" ry="1.7" transform="rotate(0 541.5 763)" class="th"/>
<path d="M556.2,771 L556.2,783 Q561.2,787 566.2,783 L566.2,771"/><ellipse cx="561.2" cy="771" rx="5" ry="2.5" transform="rotate(0 561.2 771)"/>
<path d="M548,785 L556,782 L560,790 L552,794 Z" class="th"/>
<path d="M530,807.5 L548,804 L566,808 L575,811 L575,826 L560,850 L540,850 L530,832.5 Z"/>
<path d="M536,808 L536,830 M548,804 L550,812" class="th"/>
<path d="M570,806 L578,806 Q582,809 578,812 L570,812 Z"/>
<ellipse cx="563.6" cy="827.5" rx="11.5" ry="15.5" transform="rotate(28 563.6 827.5)"/><ellipse cx="563.2" cy="828" rx="7.5" ry="11.5" transform="rotate(28 563.2 828)"/>
<path d="M536,830 L546,826 L548,845 L538,850 Z"/><ellipse cx="544" cy="850" rx="3" ry="2.5" transform="rotate(0 544 850)"/>
<path d="M567.5,791.5 L584,791 Q588,794.5 584,798 L568,798"/>
<path d="M573.7,811 L590,810.6 Q594,814 590,817.5 L574,817.5"/>
<path d="M478.7,805 L490,799 L491.2,805 L480,812 L478.7,816.2 L490,810" class="th"/>
</g>
<g class="o">
<path d="M594,788 Q618,784 640,778 L641,790 Q618,796 596,799.5 Z" style="stroke:none"/><path class="nf" d="M594,788 Q618,784 640,778 M641,790 Q618,796 596,799.5"/>
<ellipse cx="594.5" cy="793.8" rx="3.2" ry="5.7" transform="rotate(-10 594.5 793.8)"/>
<path d="M597.5,808.7 Q622,805 646,798.7 L647.5,811 Q622,816 600,818.7 Z" style="stroke:none"/><path class="nf" d="M597.5,808.7 Q622,805 646,798.7 M647.5,811 Q622,816 600,818.7"/>
<ellipse cx="599.5" cy="813.7" rx="3.2" ry="5.2" transform="rotate(-10 599.5 813.7)"/>
</g>
<path class="ln" d="M548.75,912.5 L596,861 M548.75,912.5 L615,877.5 M548.75,912.5 L650,892.5"/>
<g class="o">
<path d="M593,832 L598,838 M597,831 L600,837 M585,846 L592,846 M585,848 L591,850 M587,853 L593,854 M589,856 L593,857" style="stroke-width:1.6;fill:none"/>
<path d="M594.4,839.4 L601.7,833.1 L607,834 L612.5,839.4 L612.5,847.6 L607,855.7 L600.8,859.7 L594.4,858.8 L591.7,854.8 L592,846 Z"/>
<path d="M594.4,839.4 Q590,850 594.4,858.8" class="th"/>
<path d="M601,845 L606,842 L610,846 L610,852 L604,854 L600.5,851 Z"/>
<polygon points="636.5,866.7 631.9,872.8 626.1,876.7 620.0,877.9 614.6,876.2 610.6,871.9 608.8,865.5 609.3,858.2 612.1,850.9 616.7,844.8 622.5,840.9 628.6,839.7 634.0,841.4 638.0,845.7 639.8,852.1 639.3,859.4"/>
<polygon points="636.0,864.9 631.9,870.4 626.8,874.0 621.5,875.1 616.8,873.7 613.4,869.9 611.9,864.2 612.5,857.6 615.0,851.1 619.1,845.6 624.2,842.0 629.5,840.9 634.2,842.3 637.6,846.1 639.1,851.8 638.5,858.4" class="th"/>
<ellipse cx="627" cy="861" rx="8.5" ry="13" transform="rotate(25 627 861)"/>
<path d="M624,855 Q628,852 632,856 M623,866 Q630,858 633,862" class="th"/>
<path d="M638.7,866 L645,864.7 L645.5,871 L639.6,872 Z"/>
<path d="M643.2,872 L651.3,861.1 L658.5,859.3 L665.7,862.9 L670.3,864.7 L673.9,858.8 L679.3,861.1 L686.5,870.1 L686.5,876.4 L703.6,886.4 L704.1,896.3 L700,906.2 L697.3,915.3 L677.5,916.8 L666.6,909.8 L652.2,901.7 L645,895.4 L640.5,886.4 L640.5,876.4 Z"/>
<path d="M645.9,879.2 L656.7,872.8 L692.8,884.6 L679.3,888.2 L670.3,895.4 L645.9,881 M656.7,872.8 L660,871 L695,882" class="th"/>
<path d="M668.4,897.2 L680.2,888.2 L692.8,884.6 L695.5,887.3 L695.5,915.3 L674.8,916.8 L668.4,911.6 Z"/>
<path d="M672,901 L694,893 M672,906 L694,899 M672,911 L694,905 M674,915 L694,910 M648,886 L653,884 L655,889 M652,893 L656,891 M662,890 L664,900 L668,902" class="th"/>
<path d="M673.9,858.8 L674,870 L679,872 L679.3,861.1 M695.5,887.3 L703.6,886.4" class="th"/>
<ellipse cx="700.9" cy="900.8" rx="4.3" ry="5.5" transform="rotate(15 700.9 900.8)"/>
</g>

<path class="dd" d="M723.6,577.3 C724.8,586.8 727.4,616.0 731.0,634.0 C734.6,652.0 739.4,670.7 745.0,685.0 C750.6,699.3 758.5,709.6 764.7,720.0 C771.0,730.4 775.0,737.3 782.5,747.3 C790.0,757.3 800.4,770.2 810.0,780.0 C819.6,789.8 831.7,799.5 840.0,806.2 C848.3,812.9 850.2,814.4 860.0,820.0 C869.8,825.6 886.2,834.7 898.7,840.0 C911.2,845.3 923.4,848.6 935.0,852.0 C946.6,855.4 957.8,858.6 968.6,860.5 C979.4,862.4 989.8,863.4 1000.0,863.5 C1010.2,863.6 1025.0,861.4 1030.0,861.0"/>
<path class="ar" d="M1050,858.7 L1028.75,853.5 L1030,866 Z"/>
<path class="dd" d="M662.0,780.0 C669.2,778.7 690.3,774.3 705.0,772.0 C719.7,769.7 734.2,767.4 750.0,766.0 C765.8,764.6 781.7,763.8 800.0,763.5 C818.3,763.2 843.5,763.5 860.0,764.5 C876.5,765.5 880.6,766.5 898.7,769.3 C916.8,772.1 948.4,776.9 968.6,781.2 C988.8,785.5 1009.4,792.0 1020.0,794.9 C1030.7,797.8 1030.4,797.9 1032.5,798.5"/>
<path class="ar" d="M641,783.75 L662.5,775.5 L662.5,785.5 Z"/>
<path class="dd" d="M648.5,804.0 C657.1,801.6 683.1,795.4 700.0,789.5 C716.9,783.6 736.7,776.1 750.0,768.7 C763.3,761.3 768.0,754.0 780.0,745.0 C792.0,736.0 810.0,724.7 822.0,715.0 C834.0,705.3 845.2,693.5 852.0,687.0 C858.8,680.5 861.2,677.8 863.0,676.0"/>
<path class="ar" d="M873.75,666 L858.75,675.5 L868,682.5 Z"/>
<g class="o">
<path d="M889.5,631 L900,637 L884,665 Q878,665 873.75,661 Z"/>
<ellipse cx="878.9" cy="663.1" rx="2.8" ry="5.5" transform="rotate(30 878.9 663.1)"/>
</g>
<path class="ln" d="M1238.5,700 L1157.5,647.5 M1238.5,700 L1153.5,671 M1238.5,700 L1158.75,695 M1238.5,700 L1153.5,736"/>
<path class="ln" d="M997,722 L1047.5,732 M1020.5,755.5 L1071,765.5"/>
<g class="o">
<ellipse cx="1141.3" cy="640" rx="20.3" ry="11" transform="rotate(5 1141.3 640)"/>
<ellipse cx="1141.3" cy="636.6" rx="20.3" ry="11.5" transform="rotate(5 1141.3 636.6)"/>
<ellipse cx="1141.3" cy="636" rx="16" ry="8.5" transform="rotate(5 1141.3 636)" class="th"/>
<path d="M1111.6,624.4 L1125.4,616.1 L1143.2,615.5 L1149.9,620.5 L1149.9,633.9 L1134.3,643.3 L1133.2,631.6 L1118.8,634.4 L1111.6,630.5 Z"/>
<path d="M1111.6,624.4 L1118.8,628.5 L1133,620 L1149.9,620.5 M1118.8,628.5 L1118.8,634.4 M1133,620 L1133.2,631.6 M1126,633 L1126,641 L1134,643 M1137,630 L1137,638 L1141,636 L1141,628" class="th"/>
</g>
<g class="o">
<path d="M1082.2,656 L1103.3,643.8 L1111.6,647.7 L1111.6,658.8 L1090,671.6 L1082.2,667.2 Z"/>
<path d="M1082.2,656 L1090,660.5 L1111.6,647.7 M1090,660.5 L1090,671.6" class="th"/>
<path d="M1081,647 L1103,644 L1104,647 L1085,653 Z" class="th"/>
<path d="M1078,661 L1084,658 L1086,661 L1080,664 Z M1078,667 L1084,664 L1086,667 L1080,670 Z" />
</g>
<g class="o">
<path d="M1035.5,696.6 L1067.7,684.4 L1076.6,690.5 L1076,699 L1086.6,697.1 L1085.5,701.6 L1063,712 L1060,722 L1057,716 L1053,720 L1050,708 L1046,712 L1045,702 L1037,700 Z"/>
<path d="M1037,700 L1069,688 L1076.6,690.5 M1047,703 L1062,697 L1062,715 M1055,700 L1055,712" class="th"/>
</g>
<g class="o">
<ellipse cx="1140.7" cy="673.5" rx="12.5" ry="6.9" transform="rotate(0 1140.7 673.5)"/><ellipse cx="1140.7" cy="670.2" rx="12.5" ry="6.9" transform="rotate(0 1140.7 670.2)"/>
<path d="M1139,669 L1139,663 Q1141,661 1143,663 L1143,669 Z"/>
</g>
<g class="o">
<ellipse cx="1141" cy="696" rx="16.6" ry="10.5" transform="rotate(0 1141 696)"/><ellipse cx="1141" cy="693.8" rx="16.6" ry="10.5" transform="rotate(0 1141 693.8)"/><ellipse cx="1141" cy="694" rx="12.5" ry="7" transform="rotate(0 1141 694)"/>
<path d="M1141,688 L1141,695 M1137,696 L1145,696" class="th"/>
</g>
<g class="o">
<path d="M1127.7,737.7 L1127.7,750 Q1141,760 1153.8,750 L1153.8,737.7 Z"/>
<path d="M1129.9,719 L1129.9,740 Q1141,746 1153.2,740 L1153.2,719 Z"/>
<path d="M1133,727 L1133,742 M1137,728 L1137,745 M1146,728 L1146,745 M1150,727 L1150,742" class="th"/>
<ellipse cx="1141" cy="718.3" rx="16.6" ry="9.4" transform="rotate(0 1141 718.3)"/><ellipse cx="1141" cy="718.3" rx="12" ry="6.5" transform="rotate(0 1141 718.3)" class="th"/>
<circle cx="1141" cy="719" r="3"/><path d="M1141,709 L1141,716" class="th"/>
</g>
<g class="o">
<path d="M1050,737.9 L1074.5,732.1 L1075,747 L1053.7,753.3 L1050,752.5 Z"/>
<path d="M1050,737.9 L1053.7,740.4 L1074,733.3 M1053.7,740.4 L1053.7,753.3" class="th"/>
<path d="M1052.9,729.2 L1072.5,730.4 L1074.5,732.1 L1060,733 Z" style="fill:#111;stroke-width:1.4"/>
<path d="M1046,741.2 L1050,740.5 L1050,742.5 Z M1046,748.2 L1050,747 L1050,749.5 Z" style="stroke-width:1.6"/>
<path d="M1075,747 L1084.1,750.8 Q1087,749 1085,747.5" class="nf" style="stroke-width:1.4"/>
</g>
<g class="o">
<path d="M1077.7,766 L1077.7,771 Q1091.6,783 1105.5,771 L1105.5,766 Z"/>
<ellipse cx="1091.6" cy="765.8" rx="13.9" ry="8" transform="rotate(0 1091.6 765.8)"/>
</g>
<g class="o">
<path d="M1161,788.8 L1171.5,783.3 L1168.2,786 L1166,850 L1122.5,875 L1110,865 L1102.1,865 L1102.1,810 Z"/>
<path d="M1105.5,796.6 L1124.3,785.5 L1134.3,766.6 L1155.4,756.1 L1165.4,757.8 L1171.5,764.4 L1171.5,783.3 L1161,788.8 L1161,805 L1159.9,804.4 L1157.6,827.7 L1136.5,836.6 L1133,812 L1125,812 L1122,834 L1110,830 L1106,812 Z"/>
<path d="M1107.7,798.8 L1125.5,787.5 L1135.5,769 L1155.5,758.6 L1164.5,760 L1169.3,765.5 L1150.4,776.6 L1150.4,783" class="th"/>
<path d="M1106.6,803 L1125,805 L1160,800 M1133.2,807.7 L1159.9,804.4 M1150.4,783 Q1160,790 1158,802 L1142,808 M1145,800 L1150,797 L1150,804 L1145,806 Z M1136,790 L1134,804 M1128,796 L1150,781" class="th"/>
<path d="M1102.1,803.3 L1102.1,865 L1110,865 L1110,812" class="th"/>
<path d="M1122.5,812 L1132,806.6 L1134,836 L1157.6,827.7 L1167.5,790 L1165,850 L1122.5,875 Z"/>
<path d="M1125,814 L1125,872 M1147.6,836.6 L1149.9,853.2 M1141,857 L1152,851 Q1148,848 1145,851" class="th"/>
<path d="M1074.4,795.5 L1074.4,812 Q1090,825 1105.5,812 L1105.5,795.5 Z"/>
<ellipse cx="1090" cy="795.5" rx="15.5" ry="9" transform="rotate(0 1090 795.5)"/><ellipse cx="1090" cy="796" rx="13" ry="7" transform="rotate(0 1090 796)" class="th"/>
<path d="M1085,810 L1085,822 M1088,810 L1088,821 M1072.2,812 L1072.2,838.8 M1100,821 L1100,853" class="th"/>
<path d="M1044.4,782.2 L1047,780 L1047,792 L1052,790 L1052,777 L1056,775 L1056,788 L1062,785 L1062,775.5 L1066,774 L1066,783 L1070,781 L1075,782 L1075,793 L1053.3,802.2 L1044.4,797.7 Z"/>
<path d="M1044.4,782.2 L1053.3,787 L1053.3,802.2" class="th"/>
<path d="M1106.6,821 L1107.7,826.6 L1080,842.1 L1076.6,835.5 Z"/>
<ellipse cx="1079" cy="838.5" rx="3.5" ry="4.5" transform="rotate(30 1079 838.5)"/><ellipse cx="1083" cy="836.5" rx="3.5" ry="4.8" transform="rotate(30 1083 836.5)" class="th"/>
<path d="M1066.6,838.8 L1070,850 L1101,847.7 M1068,843 L1072,845" class="th"/>
</g>
<g class="o">
<path d="M1058,811 L1058,887.5 L1033.75,905" class="nf"/>
<path d="M1058,882 L1033.75,898 M1058,885 L1033.75,901.5" class="th"/>
<path d="M1033.75,893.75 L1033.75,918" class="nf"/>
</g>
<g class="o">
<path d="M1019.5,934 L1019.5,941 Q1037.5,955 1055.5,941 L1055.5,934 Z"/>
<ellipse cx="1037.5" cy="934" rx="18" ry="10.5" transform="rotate(0 1037.5 934)"/><ellipse cx="1037" cy="935" rx="5" ry="3" transform="rotate(0 1037 935)"/>
<circle cx="1033.75" cy="921" r="2.8"/>
</g>


<text x="202.10" y="228.10">0306</text><text x="137.10" y="266.10">0302</text><text x="171.10" y="385.10">0303</text><text x="240.10" y="423.60">0303</text><text x="391.60" y="353.10">0304</text><text x="329.60" y="396.60">0305</text><text x="356.10" y="481.10">0301</text><text x="459.60" y="246.60">0347</text><text x="511.60" y="284.35">0346</text><text x="576.10" y="317.60">0345</text><text x="630.10" y="355.60">0344</text><text x="772.10" y="236.60">0341</text><text x="944.10" y="216.10">0339</text><text x="1064.60" y="265.60">PTC</text><text x="961.10" y="286.10">0338</text><text x="1081.60" y="315.60">0348</text><text x="823.60" y="365.60">0336</text><text x="950.60" y="398.60">0340</text><text x="1029.10" y="424.60">0337</text><text x="652.10" y="444.30">0342</text><text x="669.60" y="592.60">0343</text><text x="817.10" y="586.60">0333</text><text x="884.10" y="561.10">0334</text><text x="977.60" y="533.60">0335</text><text x="100.35" y="592.60">0314</text><text x="206.10" y="582.60">0313</text><text x="291.60" y="593.10">0312</text><text x="326.10" y="632.60">0311</text><text x="392.85" y="621.60">0310</text><text x="412.10" y="662.60">0309</text><text x="412.10" y="701.60">0308</text><text x="151.10" y="693.60">0312</text><text x="171.60" y="760.60">0315</text><text x="274.10" y="860.10">0307</text><text x="377.10" y="840.10">0319</text><text x="463.60" y="889.35">0321</text><text x="514.60" y="939.35">0321</text><text x="566.60" y="750.60">0318</text><text x="497.10" y="652.60">0316</text><text x="583.60" y="622.60">0317</text><text x="628.60" y="767.60">0322</text><text x="721.10" y="879.35">0312</text><text x="600.10" y="949.35">0312</text><text x="892.85" y="681.60">0323</text><text x="1029.60" y="642.60">0329</text><text x="995.10" y="681.60">0328</text><text x="951.10" y="723.60">0327</text><text x="964.60" y="759.10">0326</text><text x="1252.60" y="711.60">0330</text><text x="1184.10" y="810.60">0331</text><text x="1201.10" y="880.10">0332</text><text x="1063.60" y="899.60">0325</text><text x="1063.60" y="940.10">0324</text>
<text x="13.6" y="997.5" style="font-size:20.8px">58300000110762 aet 000 b 3/4</text>
</svg></body></html>
